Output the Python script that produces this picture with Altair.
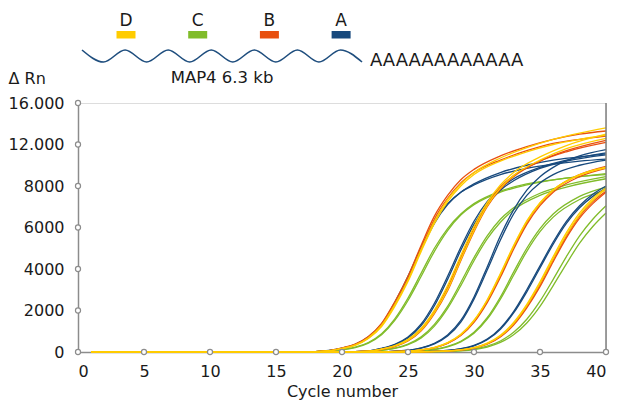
import altair as alt
import pandas as pd

# ---------------- data ----------------
GENES = ["A", "B", "C", "D"]
GENE_COLORS = ["#17497D", "#E8500F", "#80BC2A", "#FFCC00"]
HEADER_LABELS = ["D", "C", "B", "A"]

X_TICKS = [0, 5, 10, 15, 20, 25, 30, 35, 40]
Y_TICKS = [0, 2000, 4000, 6000, 8000, 10000, 12000]
Y_TICK_LABELS = ["0", "2000", "4000", "6000", "8000", "12.000", "16.000"]

CYC_1 = [1, 17, 19, 20, 21, 22, 23, 24, 25, 26, 27, 28, 29, 30, 32, 34, 36, 38, 40]
A1a = [0, 0, 80, 190, 370, 730, 1350, 2400, 3650, 5050, 6300, 7150, 7700, 8050, 8550, 8850, 9050, 9200, 9300]
A1b = [0, 0, 70, 170, 340, 680, 1280, 2300, 3550, 4950, 6200, 7100, 7700, 8100, 8650, 9000, 9250, 9400, 9550]
B1a = [0, 0, 60, 180, 350, 700, 1300, 2300, 3500, 5000, 6400, 7400, 8150, 8650, 9250, 9700, 10050, 10250, 10400]
B1b = [0, 0, 70, 200, 380, 750, 1380, 2420, 3650, 5150, 6550, 7550, 8300, 8800, 9450, 9900, 10250, 10500, 10650]
C1a = [0, 0, 40, 110, 230, 460, 880, 1600, 2600, 3800, 5000, 5950, 6650, 7150, 7750, 8100, 8300, 8450, 8550]
C1b = [0, 0, 35, 100, 210, 430, 830, 1520, 2480, 3650, 4850, 5850, 6600, 7100, 7700, 8050, 8300, 8450, 8600]
D1a = [0, 0, 60, 170, 340, 690, 1290, 2280, 3480, 4950, 6300, 7350, 8100, 8650, 9350, 9850, 10250, 10550, 10800]
D1b = [0, 0, 55, 160, 320, 650, 1230, 2200, 3400, 4850, 6200, 7250, 8000, 8550, 9200, 9650, 10000, 10250, 10450]

CYC_2 = [1, 20, 22, 23, 24, 25, 26, 27, 28, 29, 30, 31, 32, 33, 35, 37, 40]
A2a = [0, 0, 55, 180, 370, 720, 1350, 2350, 3650, 5050, 6300, 7250, 7900, 8350, 8900, 9250, 9600]
A2b = [0, 0, 50, 165, 340, 670, 1270, 2230, 3500, 4900, 6150, 7100, 7800, 8250, 8850, 9200, 9500]
B2a = [0, 0, 40, 140, 290, 580, 1100, 1950, 3100, 4550, 5950, 7100, 7950, 8500, 9200, 9650, 10100]
B2b = [0, 0, 35, 120, 260, 530, 1020, 1850, 2950, 4400, 5800, 7000, 7850, 8450, 9200, 9700, 10200]
C2a = [0, 0, 25, 90, 190, 380, 730, 1330, 2200, 3350, 4550, 5600, 6400, 6950, 7650, 8050, 8450]
C2b = [0, 0, 20, 80, 170, 350, 680, 1250, 2100, 3200, 4400, 5450, 6250, 6850, 7550, 7950, 8350]
D2a = [0, 0, 45, 150, 310, 610, 1150, 2020, 3200, 4650, 6050, 7200, 8050, 8650, 9400, 9950, 10500]
D2b = [0, 0, 40, 130, 280, 560, 1060, 1900, 3000, 4450, 5850, 7050, 7900, 8500, 9250, 9800, 10300]

CYC_3 = [1, 22, 25, 26, 27, 28, 29, 30, 31, 32, 33, 34, 35, 36, 38, 40]
A3a = [0, 0, 90, 200, 420, 820, 1520, 2650, 4100, 5600, 6850, 7800, 8450, 8900, 9450, 9750]
A3b = [0, 0, 80, 185, 390, 770, 1440, 2550, 3950, 5400, 6650, 7550, 8150, 8550, 9000, 9250]
B3a = [0, 0, 40, 100, 210, 430, 820, 1480, 2450, 3700, 5050, 6250, 7150, 7800, 8550, 8950]
B3b = [0, 0, 38, 95, 200, 410, 790, 1430, 2380, 3600, 4950, 6150, 7050, 7700, 8450, 8850]
C3a = [0, 0, 20, 60, 130, 270, 520, 950, 1650, 2650, 3850, 5000, 5950, 6650, 7500, 7950]
C3b = [0, 0, 18, 55, 120, 250, 490, 900, 1580, 2550, 3700, 4850, 5800, 6500, 7350, 7800]
D3a = [0, 0, 42, 105, 220, 450, 850, 1530, 2520, 3780, 5130, 6320, 7200, 7820, 8550, 8900]
D3b = [0, 0, 40, 100, 215, 440, 835, 1500, 2480, 3730, 5080, 6280, 7170, 7800, 8520, 8880]

CYC_4 = [1, 25, 28, 29, 30, 31, 32, 33, 34, 35, 36, 37, 38, 39, 40]
A4a = [0, 0, 80, 160, 320, 620, 1150, 1950, 3000, 4150, 5300, 6300, 7050, 7600, 8000]
A4b = [0, 0, 75, 150, 300, 590, 1100, 1880, 2900, 4050, 5200, 6200, 6950, 7500, 7900]
B4a = [0, 0, 50, 100, 200, 400, 760, 1350, 2200, 3250, 4450, 5600, 6550, 7250, 7750]
B4b = [0, 0, 45, 95, 190, 380, 730, 1300, 2130, 3150, 4350, 5500, 6450, 7150, 7700]
C4a = [0, 0, 30, 60, 120, 240, 460, 830, 1400, 2200, 3200, 4250, 5250, 6050, 6700]
C4b = [0, 0, 35, 70, 140, 280, 530, 950, 1580, 2450, 3500, 4600, 5600, 6400, 7050]
D4a = [0, 0, 55, 110, 215, 430, 810, 1430, 2300, 3380, 4600, 5750, 6700, 7400, 7900]
D4b = [0, 0, 48, 100, 200, 405, 770, 1370, 2230, 3300, 4500, 5650, 6600, 7300, 7850]

CURVES = [
    ("A1a", "A", CYC_1, A1a), ("A1b", "A", CYC_1, A1b),
    ("A2a", "A", CYC_2, A2a), ("A2b", "A", CYC_2, A2b),
    ("A3a", "A", CYC_3, A3a), ("A3b", "A", CYC_3, A3b),
    ("A4a", "A", CYC_4, A4a), ("A4b", "A", CYC_4, A4b),
    ("B1a", "B", CYC_1, B1a), ("B1b", "B", CYC_1, B1b),
    ("B2a", "B", CYC_2, B2a), ("B2b", "B", CYC_2, B2b),
    ("B3a", "B", CYC_3, B3a), ("B3b", "B", CYC_3, B3b),
    ("B4a", "B", CYC_4, B4a), ("B4b", "B", CYC_4, B4b),
    ("C1a", "C", CYC_1, C1a), ("C1b", "C", CYC_1, C1b),
    ("C2a", "C", CYC_2, C2a), ("C2b", "C", CYC_2, C2b),
    ("C3a", "C", CYC_3, C3a), ("C3b", "C", CYC_3, C3b),
    ("C4a", "C", CYC_4, C4a), ("C4b", "C", CYC_4, C4b),
    ("D1a", "D", CYC_1, D1a), ("D1b", "D", CYC_1, D1b),
    ("D2a", "D", CYC_2, D2a), ("D2b", "D", CYC_2, D2b),
    ("D3a", "D", CYC_3, D3a), ("D3b", "D", CYC_3, D3b),
    ("D4a", "D", CYC_4, D4a), ("D4b", "D", CYC_4, D4b),
]

# ---------------- build tables ----------------
rows = []
for name, gene, cyc, vals in CURVES:
    for c, v in zip(cyc, vals):
        rows.append({"curve": name, "gene": gene, "cycle": c, "rn": v})
df = pd.DataFrame(rows)
color_of = dict(zip(GENES, GENE_COLORS))

W, H = 528, 249
FONT = "DejaVu Sans"
AXIS_GRAY = "#8C8C8C"
TEXT = "#1A1A1A"

label_expr = ""
for v, lab in zip(Y_TICKS, Y_TICK_LABELS):
    label_expr += f"datum.value == {v} ? '{lab}' : "
label_expr += "datum.label"

XS = alt.Scale(domain=[0, 40], nice=False, zero=False)
YS = alt.Scale(domain=[0, 12000], nice=False)
XAX = alt.Axis(values=X_TICKS, title="Cycle number", ticks=False, tickSize=0,
               labelPadding=11, grid=False, domainColor=AXIS_GRAY, domainWidth=1.5,
               labelFont=FONT, labelFontSize=16, labelColor=TEXT,
               titleFont=FONT, titleFontSize=16, titleFontWeight="normal",
               titleColor=TEXT, titleBaseline="middle", titleY=39)
YAX = alt.Axis(values=Y_TICKS, labelExpr=label_expr, ticks=False, tickSize=0,
               labelPadding=14, grid=False, domainColor=AXIS_GRAY, domainWidth=1.5,
               labelFont=FONT, labelFontSize=16, labelColor=TEXT,
               title="Δ Rn", titleFont=FONT, titleFontSize=16,
               titleFontWeight="normal", titleColor=TEXT, titleAngle=0,
               titleAlign="left", titleBaseline="middle", titleX=-70, titleY=-25)


def xenc(field):
    return alt.X(field, type="quantitative", scale=XS, axis=XAX)


def yenc(field):
    return alt.Y(field, type="quantitative", scale=YS, axis=YAX)


layers = []
for gene in ["C", "A", "B", "D"]:
    layers.append(
        alt.Chart(df[df.gene == gene])
        .mark_line(strokeWidth=1.3, interpolate="monotone", color=color_of[gene])
        .encode(x=xenc("cycle"), y=yenc("rn"), detail="curve:N")
    )

# right border
layers.append(
    alt.Chart(pd.DataFrame({"a": [0]}))
    .mark_rule(color="#7F7F7F", strokeWidth=1.5)
    .encode(x=alt.value(W), y=alt.value(0), y2=alt.value(H))
)

# tick circles
tick_pts = pd.DataFrame(
    [{"cx": t, "cy": 0} for t in X_TICKS] + [{"cx": 0, "cy": t} for t in Y_TICKS[1:]]
)
layers.append(
    alt.Chart(tick_pts)
    .mark_point(shape="circle", filled=True, fill="white", stroke=AXIS_GRAY,
                strokeWidth=1.2, size=26, opacity=1)
    .encode(x=xenc("cx"), y=yenc("cy"))
)

# ---------------- header (gene map) in pixel coordinates ----------------
ox, oy = 78, 103  # plot origin on the page
hdr = pd.DataFrame({
    "lab": HEADER_LABELS,
    "col": [color_of[g] for g in HEADER_LABELS],
    "cx": [126 - ox + 71.7 * i for i in range(4)],
})
hdr["x1"] = hdr["cx"] - 9.5
hdr["x2"] = hdr["cx"] + 9.5
hdr["ty"] = 21 - oy
hdr["y1"] = 31 - oy
hdr["y2"] = 38.5 - oy

layers.append(
    alt.Chart(hdr).mark_text(font=FONT, fontSize=17, color=TEXT, baseline="middle")
    .encode(x=alt.X("cx:Q", scale=None, axis=None), y=alt.Y("ty:Q", scale=None, axis=None),
            text="lab:N")
)
layers.append(
    alt.Chart(hdr).mark_rect()
    .encode(x=alt.X("x1:Q", scale=None, axis=None), x2="x2:Q",
            y=alt.Y("y1:Q", scale=None, axis=None), y2="y2:Q",
            color=alt.Color("col:N", scale=None))
)

wave = pd.DataFrame({
    "wx": [82 - ox + 21.54 * k for k in range(14)],
    "wy": [(50 if k % 2 == 0 else 62) - oy for k in range(14)],
})
layers.append(
    alt.Chart(wave).mark_line(color="#1F4E7E", strokeWidth=1.6, interpolate="monotone")
    .encode(x=alt.X("wx:Q", scale=None, axis=None), y=alt.Y("wy:Q", scale=None, axis=None))
)

txt = pd.DataFrame({
    "tx": [370 - ox, 222 - ox],
    "ty": [61 - oy, 78 - oy],
    "t": ["AAAAAAAAAAAA", "MAP4 6.3 kb"],
})
layers.append(
    alt.Chart(txt.iloc[[0]]).mark_text(font=FONT, fontSize=18, color=TEXT,
                                      align="left", baseline="middle")
    .encode(x=alt.X("tx:Q", scale=None, axis=None), y=alt.Y("ty:Q", scale=None, axis=None),
            text="t:N")
)
layers.append(
    alt.Chart(txt.iloc[[1]]).mark_text(font=FONT, fontSize=16.5, color=TEXT,
                                      align="center", baseline="middle")
    .encode(x=alt.X("tx:Q", scale=None, axis=None), y=alt.Y("ty:Q", scale=None, axis=None),
            text="t:N")
)

chart = (
    alt.layer(*layers)
    .properties(width=W, height=H,
                autosize=alt.AutoSizeParams(type="none"),
                padding={"left": 70, "top": 95, "right": 11, "bottom": 50})
    .configure_view(stroke="#C4C4C4", strokeWidth=1.5)
    .configure(background="white")
)

chart.save("out.html", embed_options={"renderer": "svg", "actions": False})
